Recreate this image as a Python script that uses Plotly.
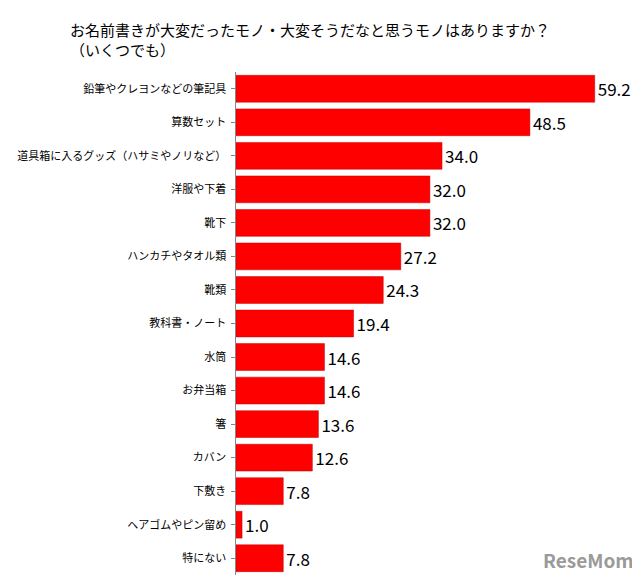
import plotly.graph_objects as go

categories = ["鉛筆やクレヨンなどの筆記具", "算数セット", "道具箱に入るグッズ（ハサミやノリなど）", "洋服や下着",
              "靴下", "ハンカチやタオル類", "靴類", "教科書・ノート", "水筒", "お弁当箱", "箸", "カバン",
              "下敷き", "ヘアゴムやピン留め", "特にない"]
values = [59.2, 48.5, 34.0, 32.0, 32.0, 27.2, 24.3, 19.4, 14.6, 14.6, 13.6, 12.6, 7.8, 1.0, 7.8]

fig = go.Figure(go.Bar(
    x=values, y=categories, orientation="h",
    marker=dict(color="#ff0000", line=dict(color="#c00000", width=0.5)),
    text=[f"{v:.1f}" for v in values], textposition="outside",
    textfont=dict(size=17, color="black", family="Noto Sans CJK JP"),
    cliponaxis=False,
))

fig.update_layout(
    width=640, height=581,
    margin=dict(l=228, r=6, t=64, b=14),
    plot_bgcolor="white", paper_bgcolor="white",
    bargap=0.2, showlegend=False,
    font=dict(family="Noto Sans CJK JP", color="black"),
    xaxis=dict(range=[0, 67], visible=False),
    yaxis=dict(autorange="reversed", showline=True, linecolor="#888", ticks="outside",
               ticklen=4, tickcolor="#888", tickfont=dict(size=11), ticksuffix=" "),
    annotations=[
        dict(text="お名前書きが大変だったモノ・大変そうだなと思うモノはありますか？<br>（いくつでも）",
             xref="paper", yref="paper", x=0, y=1, xanchor="left", yanchor="bottom",
             xshift=-168, yshift=10, align="left", showarrow=False,
             font=dict(size=15)),
        dict(text="<b>ReseMom</b>", xref="paper", yref="paper", x=1, y=0, xanchor="right",
             yanchor="bottom", xshift=-6, showarrow=False, font=dict(size=19, color="#9a9a9a")),
    ],
)

fig.write_html("out.html")
